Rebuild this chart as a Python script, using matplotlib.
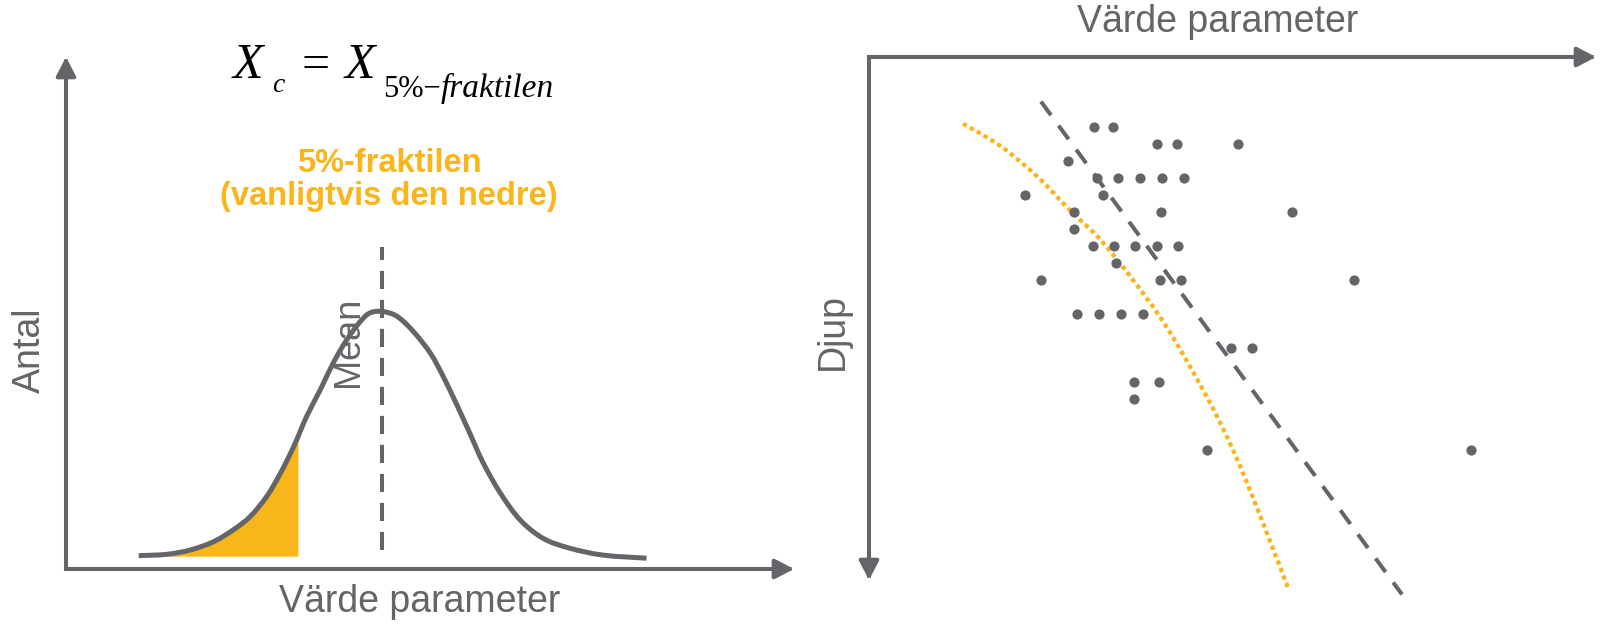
import matplotlib
matplotlib.use('Agg')
import matplotlib.pyplot as plt
from matplotlib.path import Path
from matplotlib.patches import PathPatch

plt.rcParams['font.family'] = ['Liberation Sans', 'DejaVu Sans']

GRAY = '#646469'
ORANGE = '#F9B61A'

# fördelningskurva (värde, relativ frekvens), medelvärde i 0
curve_x = [-3.58, -3.17, -2.82, -2.48, -2.19, -1.94, -1.70, -1.50, -1.30, -1.11,
           -0.91, -0.72, -0.52, -0.32, -0.18, 0.0, 0.22, 0.46, 0.71, 0.90,
           1.10, 1.29, 1.49, 1.74, 2.03, 2.37, 2.76, 3.25, 3.89]
curve_y = [0.052, 0.057, 0.074, 0.106, 0.152, 0.204, 0.281, 0.370, 0.476, 0.593,
           0.696, 0.800, 0.891, 0.962, 0.995, 1.001, 0.982, 0.923, 0.839, 0.748,
           0.638, 0.528, 0.411, 0.295, 0.191, 0.119, 0.081, 0.054, 0.042]
fractile_x = -1.23
fractile_y = 0.51
fill_base = 0.048
mean_x = 0.0
mean_top = 1.25
mean_bottom = 0.074

# mätvärden mot djup
dot_value = [22.5, 24.4,
             28.8, 30.8, 36.9,
             19.9,
             22.8, 24.9, 27.1, 29.3, 31.5,
             15.6, 23.4,
             20.5, 29.2, 42.3,
             20.5,
             22.4, 24.5, 26.6, 28.8, 30.9,
             24.7,
             17.2, 29.1, 31.2, 48.5,
             20.8, 23.0, 25.2, 27.4,
             36.2, 38.3,
             26.5, 29.0,
             26.5,
             33.8, 60.2]
dot_depth = [4, 4,
             5, 5, 5,
             6,
             7, 7, 7, 7, 7,
             8, 8,
             9, 9, 9,
             10,
             11, 11, 11, 11, 11,
             12,
             13, 13, 13, 13,
             15, 15, 15, 15,
             17, 17,
             19, 19,
             20,
             23, 23]

# medelvärdeslinje och karakteristisk kurva
trend_value = [17.2, 53.3]
trend_depth = [2.5, 31.5]
char_value = [9.4, 13.1, 16.8, 20.1, 23.1, 26.4, 29.8, 33.8, 36.4, 38.8, 41.9]
char_depth = [3.8, 5.1, 6.9, 8.9, 10.6, 13.0, 15.8, 19.9, 23.0, 26.4, 31.1]

W, H = 1603, 624
fig = plt.figure(figsize=(W / 100, H / 100), dpi=100)


def rect(x0, y0, x1, y1):
    return [x0 / W, 1 - y1 / H, (x1 - x0) / W, (y1 - y0) / H]


def fpos(x, y):
    return x / W, 1 - y / H


def smooth(xs, ys):
    # catmull-rom genom punkterna, ritad som bezier-segment
    pts = list(zip(xs, ys))
    p = [pts[0]] + pts + [pts[-1]]
    verts = [pts[0]]
    codes = [Path.MOVETO]
    for i in range(1, len(p) - 2):
        p0, p1, p2, p3 = p[i - 1], p[i], p[i + 1], p[i + 2]
        c1 = (p1[0] + (p2[0] - p0[0]) / 6, p1[1] + (p2[1] - p0[1]) / 6)
        c2 = (p2[0] - (p3[0] - p1[0]) / 6, p2[1] - (p3[1] - p1[1]) / 6)
        verts += [c1, c2, p2]
        codes += [Path.CURVE4] * 3
    return verts, codes


arrow = dict(arrowstyle='-|>,head_length=1.15,head_width=0.6', mutation_scale=10,
             lw=2.9, color=GRAY, shrinkA=0, shrinkB=0, capstyle='projecting')

# vänster: fördelning
ax1 = fig.add_axes(rect(66, 57, 794, 569))
ax1.set_xlim(-4.65, 6.06)
ax1.set_ylim(0, 1.99)
ax1.axis('off')

fill_x = [x for x in curve_x if -3.2 < x < fractile_x] + [fractile_x]
fill_y = [y for x, y in zip(curve_x, curve_y) if -3.2 < x < fractile_x] + [fractile_y]
fv, fc = smooth(fill_x, fill_y)
fv += [(fractile_x, fill_base), (fill_x[0], fill_base), (fill_x[0], fill_y[0])]
fc += [Path.LINETO, Path.LINETO, Path.CLOSEPOLY]
ax1.add_patch(PathPatch(Path(fv, fc), facecolor=ORANGE, lw=0))

cv, cc = smooth(curve_x, curve_y)
ax1.add_patch(PathPatch(Path(cv, cc), facecolor='none', edgecolor=GRAY, lw=3.6,
                        capstyle='butt'))
ax1.plot([mean_x, mean_x], [mean_bottom, mean_top], color=GRAY, lw=2.9,
         dashes=(4.5, 2.7))
ax1.annotate('', xy=(6.06, 0), xytext=(-4.65, 0), arrowprops=arrow, annotation_clip=False)
ax1.annotate('', xy=(-4.65, 1.99), xytext=(-4.65, 0), arrowprops=arrow, annotation_clip=False)

ax1.text(-0.5, 0.883, 'Mean', rotation=90, ha='center', va='center',
         fontsize=26, color=GRAY)
ax1.text(0.1, 1.576, '5%-fraktilen', ha='center', va='center',
         fontsize=23.5, color=ORANGE, fontweight='bold')
ax1.text(0.1, 1.447, '(vanligtvis den nedre)', ha='center', va='center',
         fontsize=23.5, color=ORANGE, fontweight='bold')

fig.text(*fpos(30, 350), 'Antal', rotation=90, ha='center', va='center',
         fontsize=27, color=GRAY)
fig.text(*fpos(420, 602), 'Värde parameter', ha='center', va='center',
         fontsize=27, color=GRAY)

# formel: X_c = X_{5%-fraktilen}
serif = dict(family='Liberation Serif', color='black', va='baseline', ha='left')
fig.text(*fpos(233, 78), 'X', fontsize=36, style='italic', **serif)
fig.text(*fpos(272, 92), 'c', fontsize=20, style='italic', **serif)
fig.text(*fpos(302, 78), '=', fontsize=36, **serif)
fig.text(*fpos(345, 78), 'X', fontsize=36, style='italic', **serif)
sub = fig.text(*fpos(383, 97), '5%\u2212', fontsize=22, **serif)
# kursiv del direkt efter "5%-"
renderer = fig.canvas.get_renderer()
sub_end = sub.get_window_extent(renderer).x1
fig.text(sub_end / W, 1 - 97 / H, 'fraktilen', fontsize=24, style='italic', **serif)

# höger: värde mot djup
ax2 = fig.add_axes(rect(869, 57, 1596, 580))
ax2.set_xlim(0, 72.7)
ax2.set_ylim(30.65, -0.12)
ax2.axis('off')

cv2, cc2 = smooth(char_value, char_depth)
ax2.add_patch(PathPatch(Path(cv2, cc2), facecolor='none', edgecolor=ORANGE, lw=3.1,
                        linestyle=(0, (1.0, 0.85)), capstyle='butt', clip_on=False))
ax2.plot(trend_value, trend_depth, color=GRAY, lw=2.9, dashes=(4.2, 3.2),
         clip_on=False)
ax2.scatter(dot_value, dot_depth, s=54, color=GRAY, lw=0, zorder=3)
ax2.annotate('', xy=(72.7, -0.12), xytext=(0, -0.12), arrowprops=arrow, annotation_clip=False)
ax2.annotate('', xy=(0, 30.65), xytext=(0, -0.12), arrowprops=arrow, annotation_clip=False)

fig.text(*fpos(1218, 22), 'Värde parameter', ha='center', va='center',
         fontsize=27, color=GRAY)
fig.text(*fpos(833, 331), 'Djup', rotation=90, ha='center', va='center',
         fontsize=27, color=GRAY)

fig.savefig('out.png', dpi=100, facecolor='white')
